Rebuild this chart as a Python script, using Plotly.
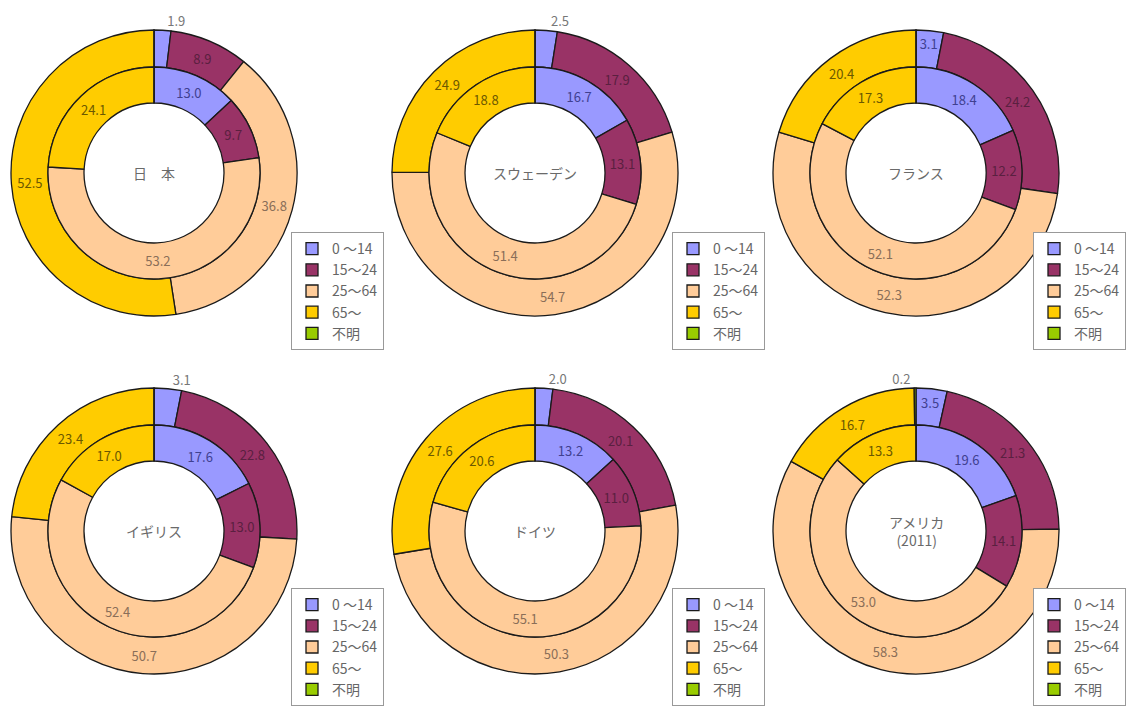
import plotly.graph_objects as go

categories = ["0 ～14", "15～24", "25～64", "65～", "不明"]
countries = ["日　本", "スウェーデン", "フランス", "イギリス", "ドイツ", "アメリカ<br>(2011)"]

# outer ring values (per country)
outer_japan = [1.9, 8.9, 36.8, 52.5, 0]
outer_sweden = [2.5, 17.9, 54.7, 24.9, 0]
outer_france = [3.1, 24.2, 52.3, 20.4, 0]
outer_uk = [3.1, 22.8, 50.7, 23.4, 0]
outer_germany = [2.0, 20.1, 50.3, 27.6, 0]
outer_usa = [3.5, 21.3, 58.3, 16.7, 0.2]

# inner ring values (per country)
inner_japan = [13.0, 9.7, 53.2, 24.1, 0]
inner_sweden = [16.7, 13.1, 51.4, 18.8, 0]
inner_france = [18.4, 12.2, 52.1, 17.3, 0]
inner_uk = [17.6, 13.0, 52.4, 17.0, 0]
inner_germany = [13.2, 11.0, 55.1, 20.6, 0]
inner_usa = [19.6, 14.1, 53.0, 13.3, 0]

outer_vals = [outer_japan, outer_sweden, outer_france, outer_uk, outer_germany, outer_usa]
inner_vals = [inner_japan, inner_sweden, inner_france, inner_uk, inner_germany, inner_usa]

colors = ["#9999FF", "#993366", "#FFCC99", "#FFCC00", "#99CC00"]
text_colors = ["#40408f", "#5a2040", "#8a6e58", "#6b5800", "#555555"]

# style: which charts put the first outer slice label outside the ring
first_label_outside = [True, True, False, True, True, False]

W, H = 1126, 706
centers_x = [154, 535, 916]
centers_y = [173, 531]
R_OUT, R_MID, R_HOLE = 143, 106, 70
FONT = "Noto Sans CJK JP"

fig = go.Figure()


def dom(cx, cy, r):
    return dict(x=[(cx - r) / W, (cx + r) / W], y=[1 - (cy + r) / H, 1 - (cy - r) / H])


def positions(vals, first_out):
    pos = []
    for k, v in enumerate(vals):
        if v == 0:
            pos.append("none")
        elif (k == 0 and first_out) or v < 1:
            pos.append("outside")
        else:
            pos.append("inside")
    return pos


for i in range(6):
    cx = centers_x[i % 3]
    cy = centers_y[i // 3]
    lg = "legend" if i == 0 else f"legend{i + 1}"
    ov = outer_vals[i]
    iv = inner_vals[i]

    fig.add_trace(go.Pie(
        labels=categories, values=ov, sort=False, direction="clockwise", rotation=0,
        hole=R_MID / R_OUT, domain=dom(cx, cy, R_OUT),
        marker=dict(colors=colors, line=dict(color="#1a1a1a", width=1.3)),
        texttemplate="%{value:.1f}", textposition=positions(ov, first_label_outside[i]),
        insidetextorientation="horizontal",
        insidetextfont=dict(color=text_colors, size=13, family=FONT),
        outsidetextfont=dict(color="#777777", size=13, family=FONT),
        hoverinfo="label+value", legend=lg, legendgroup=f"g{i}", showlegend=True,
    ))
    fig.add_trace(go.Pie(
        labels=categories, values=iv, sort=False, direction="clockwise", rotation=0,
        hole=R_HOLE / R_MID, domain=dom(cx, cy, R_MID),
        marker=dict(colors=colors, line=dict(color="#1a1a1a", width=1.3)),
        texttemplate="%{value:.1f}", textposition=positions(iv, False),
        insidetextorientation="horizontal",
        insidetextfont=dict(color=text_colors, size=13, family=FONT),
        hoverinfo="label+value", legend=lg, legendgroup=f"g{i}", showlegend=False,
    ))
    fig.add_annotation(
        x=cx / W, y=1 - cy / H, xref="paper", yref="paper", text=countries[i],
        showarrow=False, font=dict(size=14, color="#6a6a6a", family=FONT),
        xanchor="center", yanchor="middle",
    )

legend_x = [291, 672, 1033]
legend_y = [232, 588]
layout_legends = {}
for i in range(6):
    key = "legend" if i == 0 else f"legend{i + 1}"
    layout_legends[key] = dict(
        x=legend_x[i % 3] / W, y=1 - legend_y[i // 3] / H, xanchor="left", yanchor="top",
        bgcolor="white", bordercolor="#999999", borderwidth=1,
        font=dict(size=14, color="#666666", family=FONT),
        itemwidth=30, traceorder="normal", tracegroupgap=0,
    )

fig.update_layout(
    width=W, height=H, margin=dict(l=0, r=0, t=0, b=0, autoexpand=False),
    paper_bgcolor="white", plot_bgcolor="white",
    uniformtext=dict(minsize=13, mode="show"),
    font=dict(family=FONT),
    **layout_legends,
)

fig.write_html("out.html", config={"displayModeBar": False},
               post_script="document.body.style.margin='0px';")
